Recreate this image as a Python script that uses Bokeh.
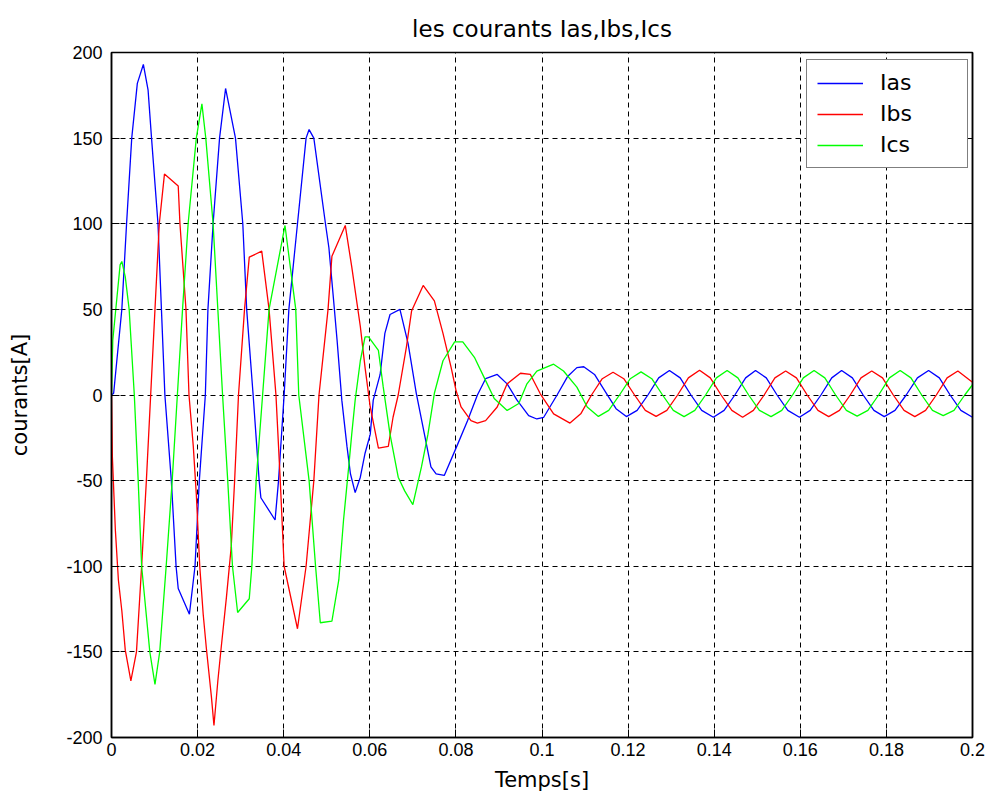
from bokeh.plotting import figure
from bokeh.models import Range1d, FixedTicker, Legend, LegendItem, LinearAxis
from bokeh.embed import file_html
from bokeh.resources import INLINE

# ---- data ----
t_a = [0, 0.0005, 0.0024, 0.0035, 0.0047, 0.0060, 0.0074, 0.0085, 0.0093, 0.0108, 0.0116, 0.0124,
       0.0139, 0.0150, 0.0155, 0.0181, 0.0194, 0.0204, 0.0218, 0.0224, 0.0236, 0.0251, 0.0265,
       0.0288, 0.0305, 0.0314, 0.0329, 0.0343, 0.0347, 0.0380, 0.0388, 0.0401, 0.0412, 0.0432,
       0.0452, 0.0459, 0.0470, 0.0497, 0.0505, 0.0516, 0.0524, 0.0535, 0.0547, 0.0555, 0.0566,
       0.0578, 0.0589, 0.0601, 0.0608, 0.0624, 0.0635, 0.0647, 0.0670, 0.0689, 0.0708, 0.0727,
       0.0742, 0.0754, 0.0773, 0.0802, 0.0827, 0.0850, 0.0869, 0.0896, 0.0919, 0.0942, 0.0969,
       0.0988, 0.1004, 0.1035, 0.1060, 0.1081, 0.1097, 0.1122, 0.1147, 0.1172, 0.1196, 0.1221,
       0.1246, 0.1271, 0.1296, 0.1321, 0.1346, 0.1371, 0.1398, 0.1423, 0.1448, 0.1473, 0.1496,
       0.1521, 0.1546, 0.1571, 0.1598, 0.1623, 0.1648, 0.1673, 0.1696, 0.1721, 0.1746, 0.1771,
       0.1795, 0.1820, 0.1846, 0.1872, 0.1898, 0.1923, 0.1948, 0.1973, 0.2000]
i_a = [0, 1, 50, 100, 150, 182, 193, 178, 150, 100, 50, 0,
       -50, -100, -113, -128, -100, -50, 0, 50, 100, 150, 179,
       150, 100, 50, 0, -50, -60, -73, -50, 0, 50, 100,
       150, 155, 150, 100, 86, 55, 32, -3, -30, -46, -57,
       -48, -34, -23, -3, 12, 36, 47, 50, 30, 1, -23,
       -42, -46, -47, -30, -15, 0, 9.5, 12, 6.5, -3, -12,
       -14, -13, 0, 11, 16, 16.5, 12, 2, -8, -12.6, -9,
       0, 10, 14.3, 10, 0, -9, -13, -9, 0, 10, 14.3,
       10, 0, -9, -13, -9, 0, 10, 14.3, 10, 0, -9,
       -12.6, -9, 0, 10, 14.3, 10, 0, -9, -13]

t_b = [0, 0.0002, 0.0009, 0.0016, 0.0024, 0.0032, 0.0045, 0.0058, 0.0070, 0.0081, 0.0091, 0.0101,
       0.0111, 0.0123, 0.0155, 0.0159, 0.0173, 0.0180, 0.0190, 0.0197, 0.0205, 0.0213, 0.0220,
       0.0232, 0.0238, 0.0247, 0.0255, 0.0267, 0.0278, 0.0286, 0.0295, 0.0309, 0.0320, 0.0349,
       0.0366, 0.0382, 0.0392, 0.0401, 0.0432, 0.0452, 0.0470, 0.0482, 0.0503, 0.0512, 0.0543,
       0.0558, 0.0578, 0.0589, 0.0601, 0.0620, 0.0643, 0.0654, 0.0666, 0.0685, 0.0697, 0.0724,
       0.0750, 0.0770, 0.0789, 0.0800, 0.0812, 0.0835, 0.0850, 0.0869, 0.0896, 0.0919, 0.0950,
       0.0973, 0.0996, 0.1027, 0.1065, 0.1090, 0.1115, 0.1140, 0.1165, 0.1190, 0.1215, 0.1240,
       0.1265, 0.1290, 0.1315, 0.1340, 0.1366, 0.1391, 0.1416, 0.1441, 0.1466, 0.1491, 0.1516,
       0.1541, 0.1566, 0.1591, 0.1616, 0.1641, 0.1666, 0.1691, 0.1716, 0.1741, 0.1766, 0.1791,
       0.1816, 0.1841, 0.1866, 0.1891, 0.1916, 0.1941, 0.1966, 0.2000]
i_b = [0, -36, -79, -108, -126, -149, -167, -150, -100, -50, 0, 50,
       100, 129, 122, 100, 50, 0, -30, -58, -100, -128, -147,
       -176, -193, -167, -147, -118, -89, -50, 0, 50, 80.5, 84,
       50, 0, -50, -100, -136.5, -100, -50, 0, 50, 81, 99,
       75, 40, 16, -7, -31, -30, -13, 0, 28, 49, 64,
       55, 36, 16, 3, -7, -15, -16.4, -15, -7, 6.5, 12.7,
       12, 0.7, -11, -16.4, -11, 0, 9.5, 13.3, 9.5, 0, -9,
       -12.5, -9, 0, 10, 14.5, 10, 0, -9, -13, -9, 0,
       10, 14, 10, 0, -9, -12.6, -9, 0, 10, 14, 10,
       0, -9, -12.6, -9, 0, 10, 14, 7.5]

t_c = [0, 0.0003, 0.0020, 0.0024, 0.0032, 0.0041, 0.0053, 0.0062, 0.0070, 0.0089, 0.0101, 0.0112,
       0.0127, 0.0141, 0.0153, 0.0165, 0.0178, 0.0197, 0.0210, 0.0219, 0.0236, 0.0247, 0.0258,
       0.0270, 0.0281, 0.0293, 0.0320, 0.0326, 0.0336, 0.0351, 0.0366, 0.0403, 0.0428, 0.0435,
       0.0459, 0.0474, 0.0485, 0.0512, 0.0528, 0.0539, 0.0551, 0.0558, 0.0566, 0.0578, 0.0589,
       0.0597, 0.0620, 0.0631, 0.0647, 0.0666, 0.0681, 0.0700, 0.0720, 0.0735, 0.0750, 0.0770,
       0.0797, 0.0816, 0.0843, 0.0866, 0.0889, 0.0919, 0.0946, 0.0965, 0.0988, 0.1027, 0.1050,
       0.1081, 0.1105, 0.1131, 0.1155, 0.1180, 0.1205, 0.1230, 0.1255, 0.1280, 0.1305, 0.1330,
       0.1355, 0.1380, 0.1405, 0.1430, 0.1455, 0.1480, 0.1505, 0.1532, 0.1557, 0.1582, 0.1607,
       0.1632, 0.1657, 0.1682, 0.1707, 0.1732, 0.1757, 0.1782, 0.1807, 0.1832, 0.1857, 0.1882,
       0.1907, 0.1932, 0.1957, 0.1982, 0.2000]
i_c = [0, 32, 76, 78, 69, 50, 0, -50, -100, -150, -169, -150,
       -100, -50, 0, 50, 100, 150, 170, 150, 100, 50, 0,
       -50, -100, -127, -119, -100, -50, 0, 50, 99, 50, 0,
       -50, -100, -133, -132, -108, -73, -42, -23, -3, 20, 34,
       34, 26, 5, -23, -48, -56, -64, -42, -23, 1, 20,
       31, 31, 22, 10, -2, -9, -5, 6.5, 14, 18, 14,
       4.6, -7, -12.5, -9, 0, 9.5, 13.5, 9.5, 0, -9, -12.6,
       -9, 0, 10, 14.3, 10, 0, -9, -12.6, -9, 0, 10,
       14.3, 10, 0, -9, -12.3, -9, 0, 10, 14.3, 10, 0,
       -9, -12, -9, 0, 6]

series_names = ["Ias", "Ibs", "Ics"]
series_colors = ["#0000ff", "#ff0000", "#00ff00"]
x_ticks = [0, 0.02, 0.04, 0.06, 0.08, 0.1, 0.12, 0.14, 0.16, 0.18, 0.2]
x_tick_labels = ["0", "0.02", "0.04", "0.06", "0.08", "0.1", "0.12", "0.14", "0.16", "0.18", "0.2"]
y_ticks = [-200, -150, -100, -50, 0, 50, 100, 150, 200]
y_tick_labels = ["-200", "-150", "-100", "-50", "0", "50", "100", "150", "200"]
title_text = "les courants Ias,Ibs,Ics"

TICK_FONT = "Liberation Sans"
TEXT_FONT = "DejaVu Sans"

W, H = 985, 796
LB, RB, TB, BB = 111, 13, 52, 59
FW, FH = W - LB - RB, H - TB - BB

p = figure(width=W, height=H, output_backend="svg", toolbar_location=None,
           x_range=Range1d(0, 0.2), y_range=Range1d(-200, 200),
           min_border_left=LB, min_border_right=RB, min_border_top=TB, min_border_bottom=BB,
           title=title_text)
p.background_fill_color = "white"
p.border_fill_color = "white"
p.outline_line_color = "black"
p.outline_line_width = 1.5

p.title.align = "center"
p.title.text_font = TEXT_FONT
p.title.text_font_size = "23px"
p.title.text_font_style = "normal"
p.title.text_color = "black"
p.title.standoff = 21


def style_axis(ax):
    ax.axis_line_color = "black"
    ax.axis_line_width = 1.5
    ax.major_tick_line_color = "black"
    ax.major_tick_line_width = 1
    ax.major_tick_in = 8
    ax.major_tick_out = 0
    ax.minor_tick_line_color = None
    ax.major_label_text_font = TICK_FONT
    ax.major_label_text_font_size = "18px"
    ax.major_label_text_color = "black"
    ax.axis_label_text_font = TEXT_FONT
    ax.axis_label_text_font_size = "21px"
    ax.axis_label_text_font_style = "normal"
    ax.axis_label_text_color = "black"


style_axis(p.xaxis[0])
style_axis(p.yaxis[0])
p.xaxis.ticker = FixedTicker(ticks=x_ticks)
p.yaxis.ticker = FixedTicker(ticks=y_ticks)
p.xaxis.major_label_overrides = {v: s for v, s in zip(x_ticks, x_tick_labels)}
p.yaxis.major_label_overrides = {v: s for v, s in zip(y_ticks, y_tick_labels)}
p.xaxis.axis_label = "Temps[s]"
p.yaxis.axis_label = "courants[A]"
p.xaxis.major_label_standoff = 5
p.yaxis.major_label_standoff = 9
p.xaxis.axis_label_standoff = 9
p.yaxis.axis_label_standoff = 31

# box-style inward ticks on the right edge
right_ax = LinearAxis(ticker=FixedTicker(ticks=y_ticks))
style_axis(right_ax)
right_ax.major_label_text_font_size = "0px"
right_ax.major_label_standoff = 0
right_ax.major_label_overrides = {v: "" for v in y_ticks}
p.add_layout(right_ax, "right")

for g in (p.xgrid[0], p.ygrid[0]):
    g.grid_line_color = "black"
    g.grid_line_dash = "5 4"
    g.grid_line_width = 1
p.xgrid.ticker = FixedTicker(ticks=x_ticks)
p.ygrid.ticker = FixedTicker(ticks=y_ticks)

renderers = []
for (tx, iy), col in zip([(t_a, i_a), (t_b, i_b), (t_c, i_c)], series_colors):
    r = p.line(tx, iy, line_color=col, line_width=1.3)
    renderers.append(r)

legend = Legend(items=[LegendItem(label=n, renderers=[r]) for n, r in zip(series_names, renderers)],
                location=(806 - LB, (TB + FH) - 168))
legend.margin = 0
legend.padding = 10
legend.spacing = 6
legend.glyph_width = 46
legend.glyph_height = 24
legend.label_height = 24
legend.label_width = 77
legend.label_standoff = 17
legend.label_text_font = TEXT_FONT
legend.label_text_font_size = "22px"
legend.label_text_color = "black"
legend.border_line_color = "black"
legend.border_line_width = 1.5
legend.background_fill_color = "white"
legend.background_fill_alpha = 1
p.add_layout(legend)

open("out.html", "w").write(file_html(p, INLINE))
